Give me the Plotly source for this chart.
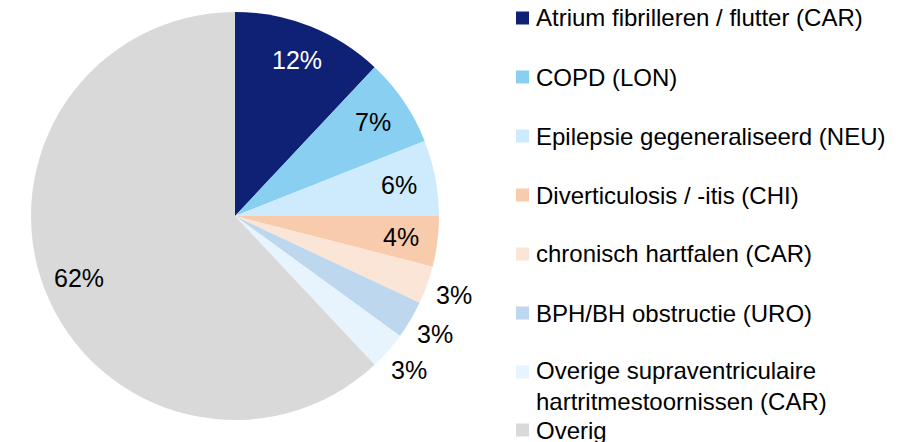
import math
import plotly.graph_objects as go

# Diagnosis share (percent of total)
categories = [
    "Atrium fibrilleren / flutter (CAR)",
    "COPD (LON)",
    "Epilepsie gegeneraliseerd (NEU)",
    "Diverticulosis / -itis (CHI)",
    "chronisch hartfalen (CAR)",
    "BPH/BH obstructie (URO)",
    "Overige supraventriculaire<br>hartritmestoornissen (CAR)",
    "Overig",
]
shares = [12, 7, 6, 4, 3, 3, 3, 62]
colors = ["#0F2174", "#88CFF1", "#CEEBFD", "#F8CBAD",
          "#FBE5D6", "#BDD7EE", "#E7F4FD", "#D9D9D9"]
label_outside = [False, False, False, False, True, True, True, False]
label_white = [True, False, False, False, False, False, False, False]

W, H = 904, 442
CX, CY, R = 235, 216, 204  # pie centre and radius in pixels
FONT = "Liberation Sans, Arial, sans-serif"

fig = go.Figure()
fig.add_trace(go.Pie(
    labels=categories,
    values=shares,
    sort=False,
    direction="clockwise",
    rotation=0,
    marker=dict(colors=colors, line=dict(width=0)),
    textinfo="none",
    showlegend=False,
    hoverinfo="label+value",
    domain=dict(x=[(CX - R) / W, (CX + R) / W],
                y=[1 - (CY + R) / H, 1 - (CY - R) / H]),
))

# Percentage labels placed along each slice's mid angle
total = sum(shares)
cum = 0
for v, out, white in zip(shares, label_outside, label_white):
    mid = (cum + v / 2) / total * 2 * math.pi
    cum += v
    r = R * (1.14 if out else 0.82)
    px = CX + r * math.sin(mid)
    py = CY - r * math.cos(mid)
    fig.add_annotation(
        x=px / W, y=1 - py / H, xref="paper", yref="paper",
        text=f"{v}%", showarrow=False, xanchor="center", yanchor="middle",
        font=dict(family=FONT, size=25, color="white" if white else "black"),
    )

# Legend: colour squares with labels on the right
legend_y = [18, 77, 136, 195, 254, 313, 372, 430]
for name, col, ly in zip(categories, colors, legend_y):
    fig.add_shape(
        type="rect", xref="paper", yref="paper",
        x0=516 / W, x1=529 / W, y0=1 - (ly + 6.5) / H, y1=1 - (ly - 6.5) / H,
        fillcolor=col, line=dict(width=0),
    )
    n_lines = name.count("<br>") + 1
    ty = ly + (n_lines - 1) * 14
    fig.add_annotation(
        x=534 / W, y=1 - ty / H, xref="paper", yref="paper",
        text=name, showarrow=False, xanchor="left", yanchor="middle",
        align="left",
        font=dict(family=FONT, size=24, color="black"),
    )

fig.update_layout(
    width=W, height=H,
    margin=dict(l=0, r=0, t=0, b=0),
    paper_bgcolor="white",
    plot_bgcolor="white",
    font=dict(family=FONT, size=24, color="black"),
)

fig.write_html("out.html")
